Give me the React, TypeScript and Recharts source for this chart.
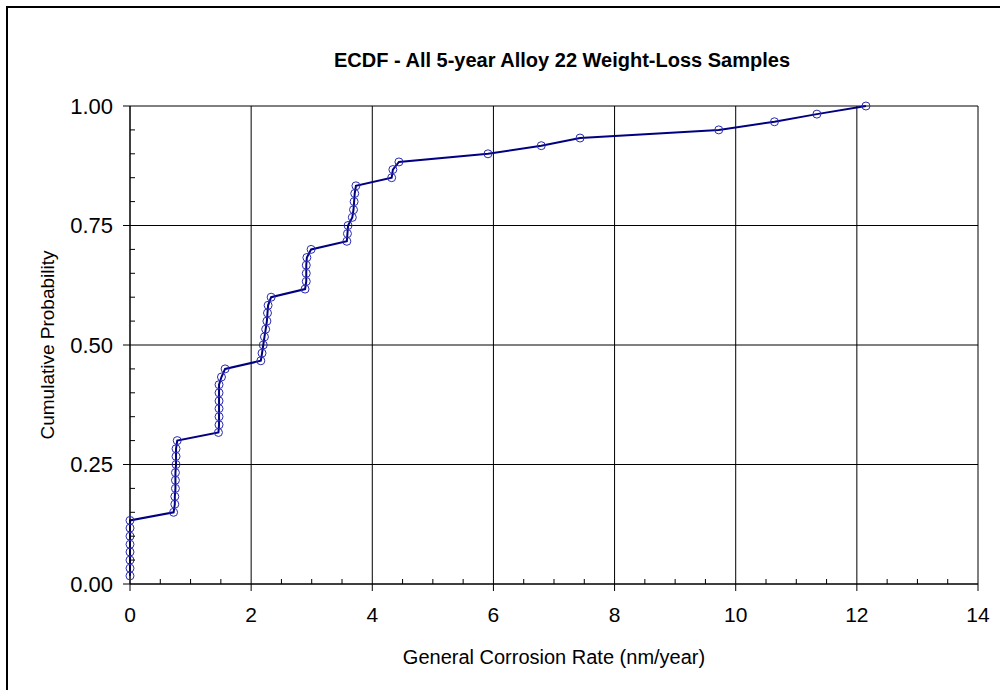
import React from 'react';
import { LineChart, Line, XAxis, YAxis, ReferenceLine, Label } from 'recharts';

// Sorted weight-loss corrosion rates (nm/year), one per sample
const rates = [
  0, 0, 0, 0, 0, 0, 0, 0,
  0.72, 0.74, 0.74, 0.75, 0.75, 0.75, 0.76, 0.76, 0.76, 0.78,
  1.46, 1.47, 1.47, 1.47, 1.47, 1.47, 1.47, 1.51, 1.57,
  2.16, 2.18, 2.2, 2.22, 2.24, 2.26, 2.27, 2.28, 2.33,
  2.89, 2.91, 2.91, 2.91, 2.92, 2.99,
  3.58, 3.59, 3.6, 3.67, 3.69, 3.7, 3.71, 3.73,
  4.32, 4.34, 4.44,
  5.91, 6.79, 7.43, 9.72, 10.64, 11.34, 12.15,
];

// Empirical cumulative probability at each sorted sample
const probabilities = [
  0.017, 0.033, 0.05, 0.067, 0.083, 0.1, 0.117, 0.133,
  0.15, 0.167, 0.183, 0.2, 0.217, 0.233, 0.25, 0.267, 0.283, 0.3,
  0.317, 0.333, 0.35, 0.367, 0.383, 0.4, 0.417, 0.433, 0.45,
  0.467, 0.483, 0.5, 0.517, 0.533, 0.55, 0.567, 0.583, 0.6,
  0.617, 0.633, 0.65, 0.667, 0.683, 0.7,
  0.717, 0.733, 0.75, 0.767, 0.783, 0.8, 0.817, 0.833,
  0.85, 0.867, 0.883,
  0.9, 0.917, 0.933, 0.95, 0.967, 0.983, 1.0,
];

// Labelled (major) ticks and their labels
const xMajorTicks = [0, 2, 4, 6, 8, 10, 12, 14];
const xTickLabels = ['0', '2', '4', '6', '8', '10', '12', '14'];
const yMajorTicks = [0, 0.25, 0.5, 0.75, 1];
const yTickLabels = ['0.00', '0.25', '0.50', '0.75', '1.00'];

// Every tick position on each axis, minor ones included
const xAllTicks = [
  0, 0.5, 1, 1.5, 2, 2.5, 3, 3.5, 4, 4.5, 5, 5.5, 6, 6.5, 7,
  7.5, 8, 8.5, 9, 9.5, 10, 10.5, 11, 11.5, 12, 12.5, 13, 13.5, 14,
];
const yAllTicks = [
  0, 0.05, 0.1, 0.15, 0.2, 0.25, 0.3, 0.35, 0.4, 0.45, 0.5,
  0.55, 0.6, 0.65, 0.7, 0.75, 0.8, 0.85, 0.9, 0.95, 1,
];

const chartTitle = 'ECDF - All 5-year Alloy 22 Weight-Loss Samples';
const xTitle = 'General Corrosion Rate (nm/year)';
const yTitle = 'Cumulative Probability';

const data = rates.map((rate, i) => ({ rate, prob: probabilities[i] }));

const FONT = 'Arial, "Liberation Sans", Helvetica, sans-serif';
const TICK_FONT_X = 21;
const TICK_FONT_Y = 22;

const XTick = (props: any) => {
  const { x, y, payload } = props;
  const idx = xMajorTicks.indexOf(payload.value);
  if (idx < 0) {
    return <line x1={x} x2={x} y1={y} y2={y - 5} stroke="#000" strokeWidth={1} />;
  }
  return (
    <g>
      <line x1={x} x2={x} y1={y} y2={y + 7} stroke="#000" strokeWidth={1} />
      <text
        x={x}
        y={y + 38}
        textAnchor="middle"
        fontFamily={FONT}
        fontSize={TICK_FONT_X}
        fill="#000"
      >
        {xTickLabels[idx]}
      </text>
    </g>
  );
};

const YTick = (props: any) => {
  const { x, y, payload } = props;
  const idx = yMajorTicks.indexOf(payload.value);
  if (idx < 0) {
    return <line x1={x} x2={x + 5} y1={y} y2={y} stroke="#000" strokeWidth={1} />;
  }
  return (
    <g>
      <line x1={x - 7} x2={x} y1={y} y2={y} stroke="#000" strokeWidth={1} />
      <text
        x={x - 17}
        y={y + TICK_FONT_Y * 0.358}
        textAnchor="end"
        fontFamily={FONT}
        fontSize={TICK_FONT_Y}
        fill="#000"
      >
        {yTickLabels[idx]}
      </text>
    </g>
  );
};

const YTitle = (props: any) => {
  const { viewBox } = props;
  const cx = viewBox.x + 47;
  const cy = viewBox.y + viewBox.height / 2;
  return (
    <text
      x={cx}
      y={cy}
      transform={`rotate(-90, ${cx}, ${cy})`}
      textAnchor="middle"
      dominantBaseline="central"
      fontFamily={FONT}
      fontSize={19}
      fill="#000"
    >
      {yTitle}
    </text>
  );
};

export default function App() {
  return (
    <div
      style={{
        position: 'absolute',
        left: 0,
        top: 0,
        width: 1000,
        height: 690,
        background: '#fff',
        overflow: 'hidden',
      }}
    >
      <div
        style={{
          position: 'absolute',
          left: 6,
          top: 6,
          width: 1010,
          height: 700,
          borderLeft: '2px solid #000',
          borderTop: '2px solid #000',
        }}
      />
      <div
        style={{
          position: 'absolute',
          left: 262,
          width: 600,
          top: 48,
          textAlign: 'center',
          fontFamily: FONT,
          fontWeight: 'bold',
          fontSize: 20,
          lineHeight: '24px',
          color: '#000',
        }}
      >
        {chartTitle}
      </div>
      <div style={{ position: 'absolute', left: 0, top: 0 }}>
        <LineChart
          width={1000}
          height={690}
          data={data}
          margin={{ top: 106, right: 22, bottom: 0, left: 0 }}
        >
          {xMajorTicks.map((v) => (
            <ReferenceLine key={`gx${v}`} x={v} stroke="#000" strokeWidth={1} />
          ))}
          {yMajorTicks.map((v) => (
            <ReferenceLine key={`gy${v}`} y={v} stroke="#000" strokeWidth={1} />
          ))}
          <XAxis
            dataKey="rate"
            type="number"
            domain={[0, 14]}
            ticks={xAllTicks}
            interval={0}
            height={106}
            axisLine={{ stroke: '#000', strokeWidth: 1 }}
            tickLine={false}
            tickSize={0}
            tickMargin={0}
            tick={<XTick />}
          >
            <Label
              value={xTitle}
              position="insideBottom"
              offset={26}
              fill="#000"
              fontFamily={FONT}
              fontSize={20}
            />
          </XAxis>
          <YAxis
            type="number"
            domain={[0, 1]}
            ticks={yAllTicks}
            interval={0}
            width={130}
            axisLine={{ stroke: '#000', strokeWidth: 1 }}
            tickLine={false}
            tickSize={0}
            tickMargin={0}
            tick={<YTick />}
          >
            <Label content={<YTitle />} />
          </YAxis>
          <Line
            dataKey="prob"
            type="linear"
            stroke="#000080"
            strokeWidth={2}
            isAnimationActive={false}
            dot={{ r: 4, stroke: '#2a2ab0', strokeWidth: 1, fill: 'none' }}
            activeDot={false}
          />
        </LineChart>
      </div>
    </div>
  );
}
